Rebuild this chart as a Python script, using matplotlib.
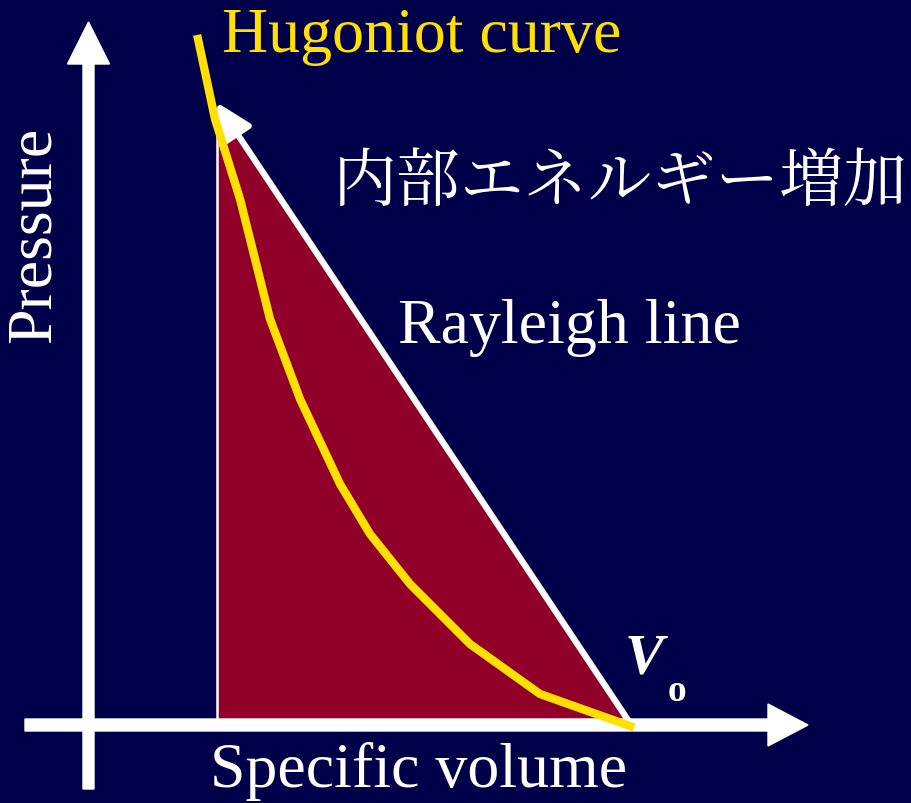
import matplotlib.pyplot as plt
from matplotlib.patches import Polygon, FancyArrow

plt.rcParams['font.family'] = ['Liberation Serif', 'DejaVu Serif']

bg = '#00004a'
red = '#900028'
yellow = '#ffe000'

# data in picture units: volume to the right, pressure upward, origin at axes cross
hug_v = [108, 125, 150, 180, 210, 250, 280, 320, 380, 450, 540]
hug_p = [682, 602, 522, 402, 322, 237, 187, 137, 77, 27, -5]

v1 = 127   # compressed volume
p1 = 612   # pressure at state 1
v0 = 539   # initial volume
tip = (126, 619)

fig = plt.figure(figsize=(9.12, 8.04), dpi=100)
fig.patch.set_facecolor(bg)
ax = fig.add_axes([0, 0, 1, 1])
ax.set_facecolor(bg)
ax.set_xlim(-90, 822)
ax.set_ylim(-82, 722)
ax.axis('off')

# energy triangle
ax.add_patch(Polygon([(v1, 0), (v1, p1), (v0, 0)], closed=True,
                     facecolor=red, edgecolor='none', zorder=1))
ax.plot([v1, v1], [0, p1], color='white', lw=1.8, zorder=2)

# axes arrows
ax.add_patch(FancyArrow(-1.5, -68, 0, 767, width=11, head_width=42,
                        head_length=42, length_includes_head=True,
                        color='white', zorder=3))
ax.add_patch(FancyArrow(-65, -4, 783, 0, width=12, head_width=42,
                        head_length=40, length_includes_head=True,
                        color='white', zorder=3))

# Rayleigh line with arrow head
ax.annotate('', xy=tip, xytext=(v0 + 1, -2),
            arrowprops=dict(arrowstyle='-|>,head_length=2.2,head_width=1.0',
                            color='white', lw=4.5, shrinkA=0, shrinkB=0),
            zorder=4)

# Hugoniot curve
ax.plot(hug_v, hug_p, color=yellow, lw=6, solid_joinstyle='miter', zorder=5)

ax.text(132, 685, 'Hugoniot curve', color=yellow, fontsize=46,
        va='center', ha='left')
ax.text(-55, 487, 'Pressure', color='white', fontsize=46, rotation=90,
        va='center', ha='center')
ax.text(308, 394, 'Rayleigh line', color='white', fontsize=46,
        va='center', ha='left')
ax.text(120, -50, 'Specific volume', color='white', fontsize=46,
        va='center', ha='left')
ax.text(530, 539, '内部エネルギー増加', color='white', fontsize=46,
        va='center', ha='center',
        family=['Noto Serif CJK JP', 'Noto Sans CJK JP', 'DejaVu Sans'])
ax.text(535, 62, 'V', color='white', fontsize=42, style='italic',
        weight='bold', va='center', ha='left')
ax.text(578, 30, 'o', color='white', fontsize=27, weight='bold',
        va='center', ha='left')

fig.savefig('out.png', dpi=100, facecolor=bg)
